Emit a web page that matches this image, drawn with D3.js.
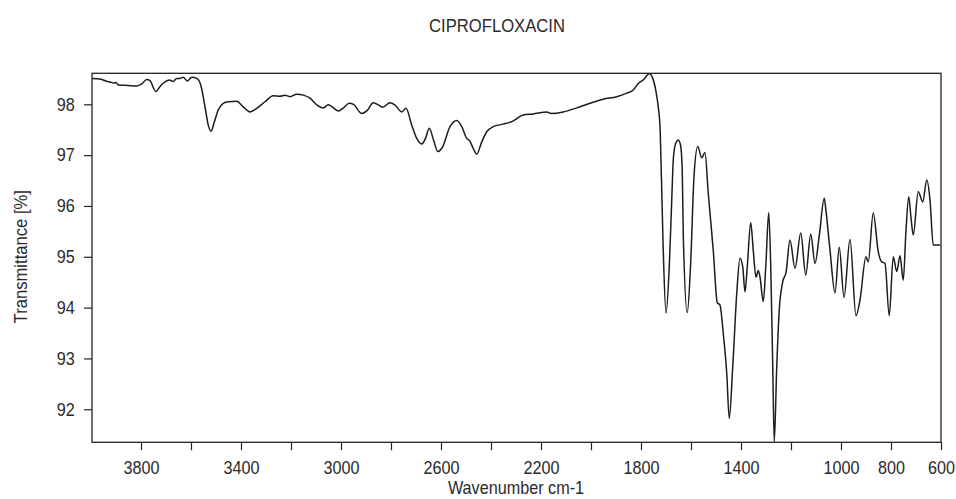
<!DOCTYPE html>
<html>
<head>
<meta charset="utf-8">
<script src="https://cdn.jsdelivr.net/npm/d3@7"></script>
<style>
  html, body { margin: 0; padding: 0; background: #fff; }
  svg { display: block; }
  text { font-family: "Liberation Sans", Arial, sans-serif; fill: #2a2a2a; }
</style>
</head>
<body>
<svg id="chart" width="956" height="499"></svg>
<script>
// ---- Data ----
const title = "CIPROFLOXACIN";
const xTitle = "Wavenumber cm-1";
const yTitle = "Transmittance [%]";
const xDomain = [4000, 600];
const yDomain = [91.35, 98.61];
const xTickValues = [3800, 3600, 3400, 3200, 3000, 2800, 2600, 2400, 2200, 2000, 1800, 1600, 1400, 1200, 1000, 800, 600];
const xTickLabels = [3800, 3400, 3000, 2600, 2200, 1800, 1400, 1000, 800, 600];
const yTickValues = [92, 93, 94, 95, 96, 97, 98];

const wavenumber = [
  3995, 3964, 3935, 3924, 3910, 3900, 3891, 3853, 3817, 3797, 3777, 3765, 3740, 3724, 3704, 3687, 3672, 3657, 3645, 3631,
  3615, 3597, 3577, 3561, 3544, 3531, 3520, 3508, 3491, 3471, 3451, 3417, 3391, 3364, 3337, 3304, 3271, 3244, 3224, 3204,
  3177, 3151, 3124, 3097, 3071, 3051, 3038, 3011, 2990, 2967, 2950, 2917, 2895, 2871, 2848, 2833, 2804, 2785, 2757, 2740,
  2717, 2697, 2677, 2662, 2647, 2630, 2613, 2595, 2564, 2537, 2517, 2497, 2485, 2471, 2457, 2437, 2417, 2391, 2351, 2317,
  2271, 2231, 2177, 2160, 2111, 2057, 2004, 1951, 1897, 1857, 1831, 1811, 1791, 1767, 1753, 1740, 1731, 1724, 1718, 1711,
  1700, 1687, 1677, 1671, 1662, 1651, 1642, 1635, 1631, 1615, 1602, 1588, 1573, 1557, 1544, 1531, 1511, 1495, 1484, 1471,
  1457, 1447, 1433, 1417, 1404, 1393, 1384, 1375, 1361, 1351, 1340, 1331, 1324, 1311, 1301, 1289, 1281, 1273, 1267, 1257,
  1247, 1233, 1220, 1204, 1184, 1161, 1141, 1121, 1104, 1087, 1067, 1060, 1044, 1024, 1007, 988, 964, 940, 924, 900,
  891, 871, 851, 837, 824, 807, 791, 777, 764, 751, 740, 729, 720, 711, 691, 673, 657, 644, 631, 604
];
const transmittance = [
  98.51, 98.50, 98.45, 98.44, 98.42, 98.43, 98.38, 98.37, 98.36, 98.40, 98.49, 98.47, 98.25, 98.35, 98.44, 98.48, 98.45, 98.51, 98.51, 98.53,
  98.46, 98.53, 98.51, 98.38, 97.95, 97.59, 97.47, 97.63, 97.89, 98.02, 98.05, 98.06, 97.95, 97.85, 97.92, 98.05, 98.17, 98.16, 98.18, 98.15,
  98.20, 98.18, 98.12, 97.99, 97.93, 97.99, 97.96, 97.87, 97.93, 98.02, 98.00, 97.82, 97.88, 98.03, 97.98, 97.94, 98.03, 97.99, 97.85, 97.92,
  97.59, 97.33, 97.22, 97.33, 97.53, 97.30, 97.07, 97.15, 97.56, 97.68, 97.56, 97.33, 97.28, 97.13, 97.02, 97.26, 97.46, 97.56, 97.61, 97.66,
  97.79, 97.81, 97.85, 97.82, 97.85, 97.93, 98.02, 98.10, 98.15, 98.22, 98.28, 98.41, 98.48, 98.60, 98.51, 98.25, 97.95, 97.56, 96.50, 95.13,
  93.89, 94.80, 96.12, 96.90, 97.22, 97.30, 97.20, 96.70, 95.46, 93.90, 94.80, 96.58, 97.17, 96.95, 97.05, 96.25, 95.13, 94.10, 94.05, 93.49,
  92.71, 91.82, 92.84, 94.28, 94.97, 94.80, 94.31, 94.80, 95.67, 95.13, 94.60, 94.73, 94.60, 94.12, 94.80, 95.87, 94.80, 92.84, 91.36, 92.84,
  93.95, 94.51, 94.69, 95.33, 94.77, 95.47, 94.64, 95.45, 94.87, 95.41, 96.15, 95.90, 95.13, 94.29, 95.19, 94.20, 95.34, 93.84, 94.15, 95.00,
  94.90, 95.86, 95.10, 94.90, 94.87, 93.84, 95.00, 94.71, 95.02, 94.54, 95.52, 96.18, 95.77, 95.43, 96.28, 96.08, 96.51, 96.12, 95.23, 95.23
];

// ---- Layout ----
const svg = d3.select("#chart");
const plot = { left: 92, right: 941, top: 73.3, bottom: 442.3 };
const x = d3.scaleLinear().domain(xDomain).range([plot.left - 1, plot.right]);
const y = d3.scaleLinear().domain(yDomain).range([plot.bottom, plot.top]);
const SX = 0.9; // horizontal condensation of the reference's lettering

function label(x0, y0, txt, size, anchor, rot) {
  svg.append("text")
    .attr("transform", `translate(${x0},${y0}) rotate(${rot || 0}) scale(${SX},1)`)
    .attr("text-anchor", anchor || "middle")
    .style("font-size", size + "px")
    .text(txt);
}

// clip
svg.append("defs").append("clipPath").attr("id", "clip")
  .append("rect").attr("x", plot.left).attr("y", plot.top)
  .attr("width", plot.right - plot.left).attr("height", plot.bottom - plot.top);

// spectrum
const data = wavenumber.map((w, i) => ({ w, t: transmittance[i] }));
const line = d3.line().x(d => x(d.w)).y(d => y(d.t)).curve(d3.curveMonotoneX);
svg.append("path").datum(data)
  .attr("clip-path", "url(#clip)")
  .attr("d", line)
  .attr("fill", "none")
  .attr("stroke", "#1c1c1c")
  .attr("stroke-width", 1.5)
  .attr("stroke-linejoin", "round");

// frame
svg.append("rect")
  .attr("x", plot.left).attr("y", plot.top)
  .attr("width", plot.right - plot.left).attr("height", plot.bottom - plot.top)
  .attr("fill", "none").attr("stroke", "#222").attr("stroke-width", 1.3);

// x axis
const xAxis = d3.axisBottom(x)
  .tickValues(xTickValues)
  .tickFormat(d => xTickLabels.includes(d) ? String(d) : "")
  .tickSize(8).tickSizeOuter(0).tickPadding(11);
const gx = svg.append("g").attr("transform", `translate(0,${plot.bottom})`).call(xAxis);
gx.select(".domain").remove();
gx.selectAll(".tick line").attr("stroke", "#222").attr("stroke-width", 1.2);
gx.selectAll(".tick text")
  .attr("transform", `scale(${SX},1)`)
  .style("font-size", "18px")
  .style("font-family", "'Liberation Sans', Arial, sans-serif")
  .attr("fill", "#2a2a2a");

// y axis
const yAxis = d3.axisLeft(y)
  .tickValues(yTickValues)
  .tickFormat(d3.format("d"))
  .tickSize(8).tickSizeOuter(0).tickPadding(11.2);
const gy = svg.append("g").attr("transform", `translate(${plot.left},0)`).call(yAxis);
gy.select(".domain").remove();
gy.selectAll(".tick line").attr("stroke", "#222").attr("stroke-width", 1.2);
gy.selectAll(".tick text")
  .attr("transform", `scale(${SX},1)`)
  .style("font-size", "18px")
  .style("font-family", "'Liberation Sans', Arial, sans-serif")
  .attr("fill", "#2a2a2a");

// titles
label(497, 31.5, title, 18.5, "middle", 0);
label(516, 494, xTitle, 18, "middle", 0);
label(26.5, 256.7, yTitle, 18.5, "middle", -90);
</script>
</body>
</html>
